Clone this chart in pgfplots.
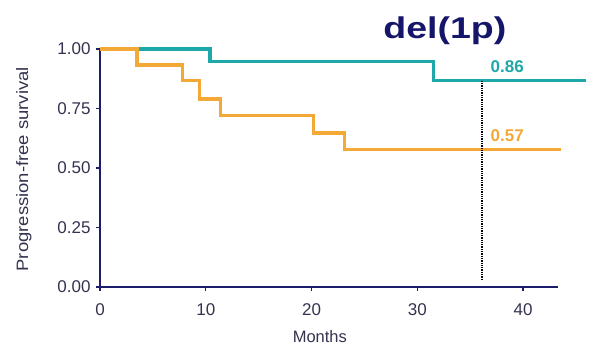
\documentclass[border=0pt]{standalone}
\usepackage{fontspec}
\setmainfont{Liberation Sans}
\newfontfamily\titlefont[FakeStretch=1.25]{Liberation Sans}
\newfontfamily\ylabfont[FakeStretch=1.12]{Liberation Sans}
\usepackage{pgfplots}
\pgfplotsset{compat=1.18}
\definecolor{teal1}{HTML}{1FA8AA}
\definecolor{orange1}{HTML}{F4A835}
\definecolor{navy}{HTML}{1C1C6B}
\definecolor{tick}{HTML}{33334F}
\definecolor{titlec}{HTML}{15156A}
\begin{document}
\begin{tikzpicture}
\path[use as bounding box] (-100pt,-60pt) rectangle (489pt,287pt);
\begin{axis}[
  at={(0,0)}, anchor=south west,
  scale only axis, width=458pt, height=238pt,
  xmin=0, xmax=43.3, ymin=0, ymax=1,
  axis lines=left,
  axis line style={navy, line width=1.8pt, -},
  clip=false,
  xtick={0,10,20,30,40},
  ytick={0,0.25,0.5,0.75,1},
  yticklabel style={/pgf/number format/fixed, /pgf/number format/fixed zerofill, /pgf/number format/precision=2},
  /pgf/number format/assume math mode=true,
  tick style={navy, line width=1.4pt},
  tick align=outside,
  major tick length=4pt,
  ticklabel style={font=\fontsize{17}{20}\selectfont, text=tick},
  xticklabel style={yshift=-9pt},
  yticklabel style={xshift=-2pt},
  xlabel={Months}, ylabel={Progression-free survival},
  label style={font=\fontsize{16.5}{19}\selectfont, text=tick},
  xlabel style={at={(axis description cs:0.48,-0.21)}, anchor=center},
  ylabel style={at={(axis description cs:-0.166,0.495)}, anchor=center, font=\ylabfont\fontsize{16.5}{19}\selectfont},
]
\addplot[const plot, color=teal1, line width=3.2pt] coordinates {
 (0,1.0) (10.4,0.947) (31.5,0.866) (45.9,0.866)};
\addplot[const plot, color=orange1, line width=3.2pt] coordinates {
 (0,1.0) (3.5,0.933) (7.8,0.866) (9.4,0.79) (11.4,0.72) (20.2,0.647) (23.1,0.578) (43.6,0.578)};
\addplot[color=black!85!navy, dash pattern=on 1.3pt off 1pt, line width=1.4pt] coordinates {(36.1,0.866) (36.1,0.03)};
\node[anchor=base west, text=teal1, font=\fontsize{17}{20}\selectfont\bfseries] at (axis cs:36.6,0.9) {0.86};
\node[anchor=base west, text=orange1, font=\fontsize{17}{20}\selectfont\bfseries] at (axis cs:36.6,0.61) {0.57};
\node[anchor=center, text=titlec, font=\titlefont\fontsize{30}{34}\selectfont\bfseries] at (axis cs:32.6,1.075) {del(1p)};
\end{axis}
\end{tikzpicture}
\end{document}
